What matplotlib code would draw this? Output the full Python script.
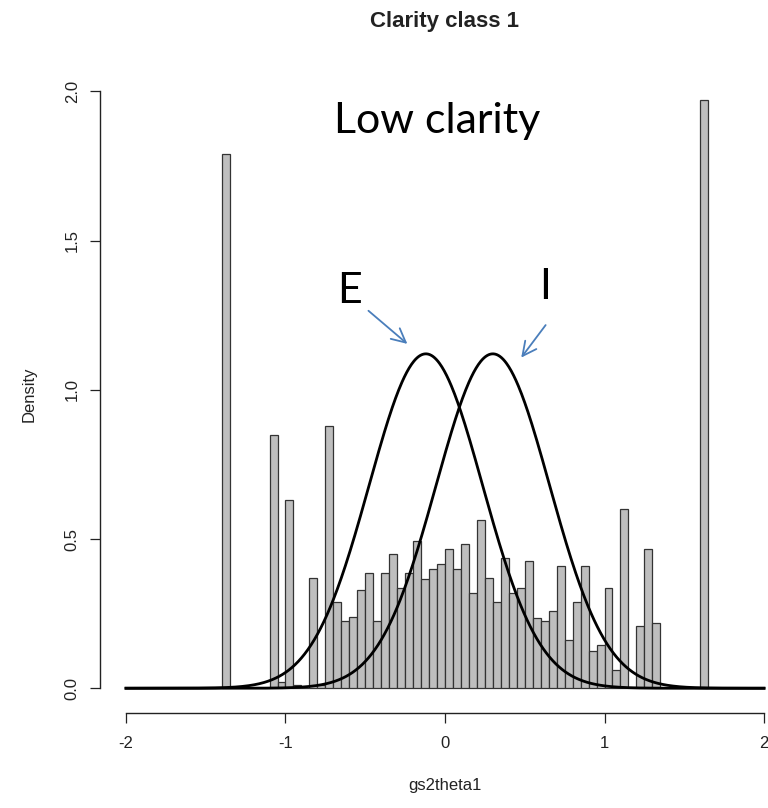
import numpy as np
import matplotlib
matplotlib.use("Agg")
import matplotlib.pyplot as plt

# =========================
# Data
# =========================

# histogram bins (left edges, width 0.05) and their densities
bin_width = 0.05
bin_lefts = [
    -1.40, -1.35, -1.30, -1.25, -1.20, -1.15, -1.10, -1.05, -1.00, -0.95,
    -0.90, -0.85, -0.80, -0.75, -0.70, -0.65, -0.60, -0.55, -0.50, -0.45,
    -0.40, -0.35, -0.30, -0.25, -0.20, -0.15, -0.10, -0.05, 0.00, 0.05,
    0.10, 0.15, 0.20, 0.25, 0.30, 0.35, 0.40, 0.45, 0.50, 0.55,
    0.60, 0.65, 0.70, 0.75, 0.80, 0.85, 0.90, 0.95, 1.00, 1.05,
    1.10, 1.15, 1.20, 1.25, 1.30, 1.35, 1.40, 1.45, 1.50, 1.55,
    1.60,
]
densities = [
    1.79, 0, 0, 0, 0, 0, 0.85, 0.02, 0.63, 0.01,
    0, 0.37, 0.01, 0.88, 0.29, 0.225, 0.24, 0.33, 0.385, 0.225,
    0.385, 0.45, 0.335, 0.385, 0.495, 0.365, 0.40, 0.415, 0.465, 0.40,
    0.485, 0.32, 0.565, 0.37, 0.29, 0.435, 0.32, 0.335, 0.425, 0.235,
    0.225, 0.26, 0.41, 0.16, 0.29, 0.41, 0.125, 0.145, 0.335, 0.06,
    0.60, 0, 0.21, 0.465, 0.22, 0, 0, 0, 0, 0,
    1.97,
]

# normal curves for the two classes (mean, sd)
curve_means = {"E": -0.12, "I": 0.30}
curve_sd = 0.356

x_ticks = [-2, -1, 0, 1, 2]
y_ticks = [0.0, 0.5, 1.0, 1.5, 2.0]

# =========================
# Plot
# =========================

plt.rcParams["font.family"] = ["Liberation Sans", "DejaVu Sans"]

fig = plt.figure(figsize=(7.68, 8.08), dpi=100)
W, H = 768, 808

# plot region in pixels (R style, extends 4% past the data)
x_lo, x_hi = -2.163, 2.163
y_lo, y_hi = -0.082, 2.05
left_px, right_px = 100, 790
bottom_px = 712.7
top_px = bottom_px - (y_hi - y_lo) * 298.4
ax = fig.add_axes([left_px / W, (H - bottom_px) / H,
                   (right_px - left_px) / W, (bottom_px - top_px) / H])
ax.set_xlim(x_lo, x_hi)
ax.set_ylim(y_lo, y_hi)

ax.bar(bin_lefts, densities, width=bin_width, align="edge",
       color="#BEBEBE", edgecolor="#333333", linewidth=0.9, zorder=2)

xs = np.linspace(-2, 2, 801)
for name, mu in curve_means.items():
    ys = np.exp(-0.5 * ((xs - mu) / curve_sd) ** 2) / (curve_sd * np.sqrt(2 * np.pi))
    ax.plot(xs, ys, color="black", linewidth=2.0, zorder=3)

# axes, R look
for side in ["top", "right"]:
    ax.spines[side].set_visible(False)
ax.spines["left"].set_bounds(0, 2)
ax.spines["bottom"].set_bounds(-2, 2)
for side in ["left", "bottom"]:
    ax.spines[side].set_linewidth(1.0)
    ax.spines[side].set_color("#222222")

ax.set_xticks(x_ticks)
ax.set_xticklabels([str(t) for t in x_ticks])
ax.set_yticks(y_ticks)
ax.set_yticklabels([f"{t:.1f}" for t in y_ticks])
ax.tick_params(axis="both", direction="out", length=7.5, width=0.9,
               colors="#222222", labelsize=12, labelcolor="#222222")
ax.tick_params(axis="x", pad=9)
ax.tick_params(axis="y", pad=7)
for t in ax.get_yticklabels():
    t.set_rotation(90)
    t.set_va("center")

ax.set_xlabel("gs2theta1", fontsize=12, color="#222222", labelpad=20)
ax.set_ylabel("Density", fontsize=12, color="#222222", labelpad=20)
# title centred over the plot region, like R's main=
fig.text(445 / W, 1 - 22 / H, "Clarity class 1", fontsize=16,
         fontweight="bold", color="#222222", ha="center", va="center")

# annotations
ann_font = ["Lato", "DejaVu Sans"]
ax.text(-0.05, 1.90, "Low clarity", fontsize=31, family=ann_font,
        ha="center", va="center")
ax.text(-0.60, 1.33, "E", fontsize=31, family=ann_font, ha="center", va="center")
ax.text(0.627, 1.345, "I", fontsize=31, family=ann_font, ha="center", va="center")

arrow_kw = dict(arrowstyle="->,head_length=1.0,head_width=0.5",
                color="#4A7EBB", lw=1.3, shrinkA=0, shrinkB=0)
ax.annotate("", xy=(-0.236, 1.154), xytext=(-0.48, 1.265), arrowprops=arrow_kw)
ax.annotate("", xy=(0.478, 1.108), xytext=(0.631, 1.217), arrowprops=arrow_kw)

fig.savefig("out.png", dpi=100)
